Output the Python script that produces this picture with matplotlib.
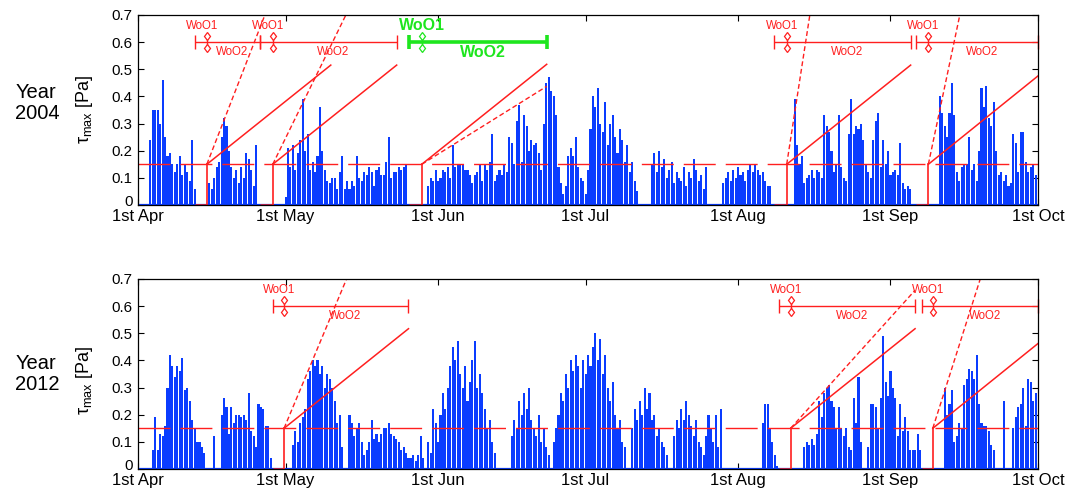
import numpy as np
import matplotlib
matplotlib.use("Agg")
import matplotlib.pyplot as plt
from matplotlib.transforms import ScaledTranslation

plt.rcParams["font.family"] = ["Liberation Sans", "DejaVu Sans"]
plt.rcParams["mathtext.fontset"] = "custom"
plt.rcParams["mathtext.rm"] = "Liberation Sans"
plt.rcParams["mathtext.it"] = "Liberation Sans:italic"
plt.rcParams["lines.scale_dashes"] = False

# ---------------------------------------------------------------- data
month_days = [0, 30, 61, 91, 122, 153, 183]          # days since 1st April
month_labels = ["1st Apr", "1st May", "1st Jun", "1st Jul",
                "1st Aug", "1st Sep", "1st Oct"]
threshold = 0.15                                     # critical shear stress [Pa]
step = 0.5                                           # two tidal maxima per day

# maximum bed shear stress per half day [Pa], 2004
tau_2004_apr = [0, 0, 0, 0, 0, 0.24, 0.35, 0.35, 0.35, 0.30, 0.46, 0.25, 0.18, 0.19, 0.15,
                0.12, 0.15, 0.18, 0.11, 0.15, 0.12, 0.09, 0.24, 0.06, 0, 0, 0, 0, 0, 0.08,
                0.06, 0.10, 0.14, 0.16, 0.25, 0.32, 0.29, 0.20, 0.14, 0.10, 0.13, 0.08, 0.14, 0.10, 0.19,
                0.17, 0.13, 0.07, 0.22, 0, 0, 0, 0, 0, 0, 0, 0, 0, 0, 0]
tau_2004_may = [0.03, 0.21, 0.14, 0.22, 0.13, 0.19, 0.24, 0.39, 0.20, 0.26, 0.13, 0.16, 0.12, 0.18, 0.36,
                0.20, 0.13, 0.09, 0.08, 0.10, 0.10, 0.06, 0.12, 0.18, 0.06, 0.09, 0.06, 0.09, 0.07, 0.18,
                0.10, 0.09, 0.12, 0.11, 0.14, 0.12, 0.07, 0.13, 0.14, 0.11, 0.11, 0.16, 0.25, 0.10, 0.12,
                0.12, 0.14, 0.13, 0.14, 0.15, 0, 0, 0, 0, 0, 0, 0, 0, 0.07, 0.10,
                0.09, 0.13]
tau_2004_jun = [0.09, 0.10, 0.13, 0.12, 0.14, 0.10, 0.22, 0.14, 0.15, 0.15, 0.15, 0.13, 0.13, 0.11, 0.08,
                0.11, 0.12, 0.15, 0.09, 0.15, 0.13, 0.16, 0.26, 0.09, 0.11, 0.13, 0.11, 0.15, 0.12, 0.25,
                0.23, 0.15, 0.31, 0.37, 0.16, 0.33, 0.29, 0.20, 0.24, 0.22, 0.23, 0.19, 0.13, 0.30, 0.45,
                0.47, 0.42, 0.40, 0.33, 0.14, 0.08, 0.04, 0.07, 0.18, 0.21, 0.18, 0.25, 0.14, 0.10, 0.09]
tau_2004_jul = [0.04, 0.13, 0.28, 0.40, 0.36, 0.43, 0.30, 0.27, 0.38, 0.22, 0.30, 0.33, 0.25, 0.19, 0.28,
                0.24, 0.16, 0.22, 0.12, 0.16, 0.09, 0.05, 0, 0, 0, 0, 0, 0.15, 0.19, 0.12,
                0.20, 0.14, 0.17, 0.10, 0.13, 0.16, 0.08, 0.12, 0.10, 0.09, 0.14, 0.07, 0.12, 0.10, 0.17,
                0.13, 0.09, 0.11, 0.06, 0.14, 0, 0, 0, 0, 0, 0, 0.08, 0.10, 0.12, 0.09,
                0.13, 0.10]
tau_2004_aug = [0.14, 0.11, 0.12, 0.09, 0.13, 0.15, 0.12, 0.15, 0.13, 0.11, 0.12, 0.09, 0.07, 0.07, 0,
                0, 0, 0, 0, 0, 0, 0, 0, 0.39, 0.22, 0.15, 0.18, 0.08, 0.10, 0.11,
                0.13, 0.10, 0.13, 0.12, 0.10, 0.33, 0.29, 0.27, 0.20, 0.12, 0.15, 0.33, 0.14, 0.10, 0.09,
                0.26, 0.39, 0.26, 0.29, 0.28, 0.30, 0.24, 0.15, 0.12, 0.10, 0.24, 0.31, 0.34, 0.14, 0.24,
                0.15, 0.20]
tau_2004_sep = [0.11, 0.12, 0.13, 0.11, 0.23, 0.08, 0.06, 0.07, 0.06, 0, 0, 0, 0, 0, 0,
                0, 0, 0, 0, 0, 0.40, 0.34, 0.29, 0.25, 0.34, 0.45, 0.33, 0.12, 0.09, 0.14,
                0.15, 0.15, 0.25, 0.13, 0.15, 0.09, 0.20, 0.43, 0.36, 0.44, 0.32, 0.29, 0.38, 0.20, 0.11,
                0.12, 0.09, 0.11, 0.07, 0.08, 0.26, 0.23, 0.12, 0.27, 0.27, 0.16, 0.12, 0.14, 0.15, 0.11]

# maximum bed shear stress per half day [Pa], 2012
tau_2012_apr = [0, 0, 0, 0, 0, 0, 0.07, 0.19, 0.07, 0.13, 0.12, 0.16, 0.30, 0.42, 0.38,
                0.34, 0.38, 0.36, 0.41, 0.29, 0.30, 0.25, 0.18, 0.15, 0.10, 0.10, 0.08, 0.06, 0, 0,
                0, 0.12, 0, 0, 0.20, 0.26, 0.23, 0.13, 0.23, 0.17, 0.20, 0.20, 0.19, 0.20, 0.18,
                0.28, 0.14, 0.12, 0.08, 0.24, 0.23, 0.22, 0.16, 0.16, 0.04, 0, 0, 0, 0, 0]
tau_2012_may = [0, 0, 0, 0.09, 0.14, 0.10, 0.17, 0.19, 0.22, 0.33, 0.36, 0.40, 0.38, 0.40, 0.35,
                0.38, 0.30, 0.35, 0.33, 0.30, 0.25, 0.17, 0.20, 0.08, 0, 0, 0.20, 0.17, 0.12, 0.15,
                0.17, 0.10, 0.05, 0.07, 0.10, 0.18, 0.11, 0.13, 0.10, 0.13, 0.15, 0.15, 0.17, 0.13, 0.12,
                0.11, 0.10, 0.07, 0.08, 0.06, 0.04, 0.04, 0.05, 0.03, 0.05, 0.12, 0.04, 0, 0.10, 0.06,
                0.22, 0.17]
tau_2012_jun = [0.10, 0.20, 0.28, 0.22, 0.30, 0.38, 0.45, 0.40, 0.47, 0.35, 0.30, 0.38, 0.25, 0.32, 0.40,
                0.47, 0.30, 0.35, 0.28, 0.22, 0.15, 0.18, 0.10, 0.06, 0, 0, 0, 0, 0, 0,
                0.12, 0.18, 0.15, 0.25, 0.20, 0.28, 0.22, 0.30, 0.18, 0.15, 0.12, 0.20, 0.10, 0.15, 0.08,
                0.05, 0, 0.10, 0.15, 0.20, 0.28, 0.25, 0.35, 0.30, 0.40, 0.36, 0.42, 0.38, 0.30, 0.40]
tau_2012_jul = [0.35, 0.42, 0.38, 0.45, 0.50, 0.40, 0.48, 0.35, 0.42, 0.30, 0.25, 0.32, 0.20, 0.15, 0.18,
                0.10, 0.08, 0, 0, 0.15, 0.22, 0.18, 0.25, 0.20, 0.30, 0.22, 0.28, 0.18, 0.20, 0.12,
                0.15, 0.10, 0.08, 0.05, 0, 0, 0.12, 0.18, 0.15, 0.22, 0.18, 0.25, 0.20, 0.16, 0.12,
                0.18, 0.10, 0.08, 0.05, 0.12, 0.20, 0.15, 0.10, 0.20, 0.08, 0.22, 0, 0, 0, 0,
                0, 0]
tau_2012_aug = [0, 0, 0, 0, 0, 0, 0, 0, 0, 0, 0.17, 0.24, 0.24, 0.15, 0.10,
                0.05, 0.01, 0, 0, 0, 0, 0, 0, 0, 0, 0, 0, 0.08, 0.10, 0.09,
                0.11, 0.09, 0.13, 0.25, 0.19, 0.28, 0.30, 0.31, 0.25, 0.23, 0.15, 0.23, 0.15, 0.12, 0.15,
                0.08, 0.07, 0.26, 0.17, 0.34, 0.10, 0, 0, 0.08, 0.24, 0.24, 0.23, 0.15, 0.26, 0.49,
                0.32, 0.27]
tau_2012_sep = [0.36, 0.30, 0.26, 0.12, 0.24, 0.14, 0.19, 0.14, 0.07, 0.07, 0.07, 0.13, 0.07, 0, 0,
                0, 0, 0, 0, 0, 0, 0, 0.30, 0.20, 0.24, 0.29, 0.10, 0.12, 0.17, 0.15,
                0.31, 0.33, 0.37, 0.36, 0.33, 0.42, 0.24, 0.17, 0.16, 0.16, 0.14, 0.09, 0.07, 0, 0,
                0, 0.25, 0, 0, 0, 0.15, 0.19, 0.23, 0.24, 0.30, 0.16, 0.33, 0.32, 0.25, 0.28]

# windows of opportunity: calm period start, onset of exceedance, end of WoO2,
# rate of stress increase for WoO1 (dashed) and WoO2 (solid) [Pa/day]
calm_2004 = [11.6, 24.8, 55.2, 129.4, 158.1]
onset_2004 = [14.0, 27.4, 57.7, 131.9, 160.7]
end_2004 = [39.2, 52.6, 83.1, 157.1, 183.0]
rate1_2004 = [0.0466, 0.0370, 0.0113, 0.117, 0.086]
rate2_2004 = [0.0145, 0.0145, 0.0145, 0.0145, 0.0146]
chosen_2004 = 2

calm_2012 = [27.4, 130.4, 159.4]
onset_2012 = [29.7, 132.7, 161.6]
end_2012 = [55.0, 158.0, 183.0]
rate1_2012 = [0.0433, 0.0201, 0.057]
rate2_2012 = [0.0145, 0.0145, 0.0146]
chosen_2012 = None

# ---------------------------------------------------------------- style
BLUE = "#0a3cff"
RED = "#ff1f1f"
GREEN = "#1ee61e"

fig = plt.figure(figsize=(10.84, 4.91), dpi=100)
ax_top = fig.add_axes([0.1273, 0.5825, 0.8303, 0.387])
ax_bot = fig.add_axes([0.1273, 0.0448, 0.8303, 0.387])


def draw_panel(ax, tau, calm, onset, end, rate1, rate2, chosen, year, ycenter):
    t = np.arange(len(tau)) * step
    ax.bar(t, tau, width=0.42, color=BLUE, linewidth=0, zorder=2)
    ax.axhline(0, color=BLUE, lw=1.6, zorder=2.5)
    ax.axhline(threshold, color=RED, lw=1.0, dashes=(23, 7.2), zorder=3)

    n = len(onset)
    for i in range(n):
        col = GREEN if i == chosen else RED
        g, t0, te = calm[i], onset[i], end[i]
        # calm spell on the axis and the jump to the threshold
        ax.plot([g, t0], [0, 0], color=RED, lw=1.8, zorder=4, solid_capstyle="butt")
        ax.plot([t0, t0], [0, threshold], color=RED, lw=1.2, zorder=4)
        # WoO1 (dashed) and WoO2 (solid) stress growth
        ax.plot([t0, te], [threshold, threshold + rate1[i] * (te - t0)],
                color=RED, lw=1.0, dashes=(3.5, 2), zorder=4)
        ax.plot([t0, te], [threshold, threshold + rate2[i] * (te - t0)],
                color=RED, lw=1.1, zorder=4)

        bar_end = min(te, calm[i + 1]) if i + 1 < n else te
        lw = 2.6 if i == chosen else 1.0
        fs = 11.5 if i == chosen else 8.3
        fw = "bold" if i == chosen else "normal"
        mid = 0.5 * (g + bar_end)
        ax.errorbar(mid, 0.6, xerr=[[mid - g], [bar_end - mid]], color=col,
                    lw=lw, capsize=4.7, capthick=lw, clip_on=False, zorder=5)
        ax.plot([t0, t0], [0.578, 0.622], color=col, lw=1.0, zorder=5, clip_on=False)
        ax.plot([t0, t0], [0.578, 0.622], linestyle="none", marker="d", ms=4.5,
                mfc="white", mec=col, mew=0.9, zorder=6, clip_on=False)
        dx1 = 0.0 if i == chosen else -1.0
        ax.text(t0 + dx1, 0.66, "WoO1", color=col, fontsize=fs, fontweight=fw,
                ha="center", va="center", zorder=6)
        ax.text(mid + 1.0, 0.562, "WoO2", color=col, fontsize=fs, fontweight=fw,
                ha="center", va="center", zorder=6)

    ax.set_xlim(month_days[0], month_days[-1])
    ax.set_ylim(0, 0.7)
    ax.set_xticks(month_days)
    ax.set_xticklabels(month_labels)
    ax.set_yticks(np.arange(0, 0.71, 0.1))
    ax.set_yticklabels(["0"] + ["%.1f" % v for v in np.arange(0.1, 0.71, 0.1)])
    ax.tick_params(direction="in", top=True, right=True, length=4, width=0.8, pad=4)
    ax.tick_params(axis="x", labelsize=12, pad=3)
    ax.tick_params(axis="y", labelsize=10.8)
    # lift the zero label a little so it clears the date labels
    zero = ax.get_yticklabels()[0]
    zero.set_transform(zero.get_transform() + ScaledTranslation(0, 3 / 72, fig.dpi_scale_trans))
    for s in ax.spines.values():
        s.set_linewidth(0.9)
        s.set_zorder(7)

    fig.text(0.014, ycenter, "Year\n%d" % year, fontsize=14.5, ha="left", va="center",
             linespacing=1.12)
    fig.text(0.078, ycenter - 0.012, r"τ$_{\rm max}$ [Pa]", fontsize=13, rotation=90,
             ha="center", va="center")


tau_2004 = tau_2004_apr + tau_2004_may + tau_2004_jun + tau_2004_jul + tau_2004_aug + tau_2004_sep
tau_2012 = tau_2012_apr + tau_2012_may + tau_2012_jun + tau_2012_jul + tau_2012_aug + tau_2012_sep

draw_panel(ax_top, tau_2004, calm_2004, onset_2004, end_2004, rate1_2004, rate2_2004,
           chosen_2004, 2004, 0.79)
draw_panel(ax_bot, tau_2012, calm_2012, onset_2012, end_2012, rate1_2012, rate2_2012,
           chosen_2012, 2012, 0.238)

fig.savefig("out.png", dpi=100)
